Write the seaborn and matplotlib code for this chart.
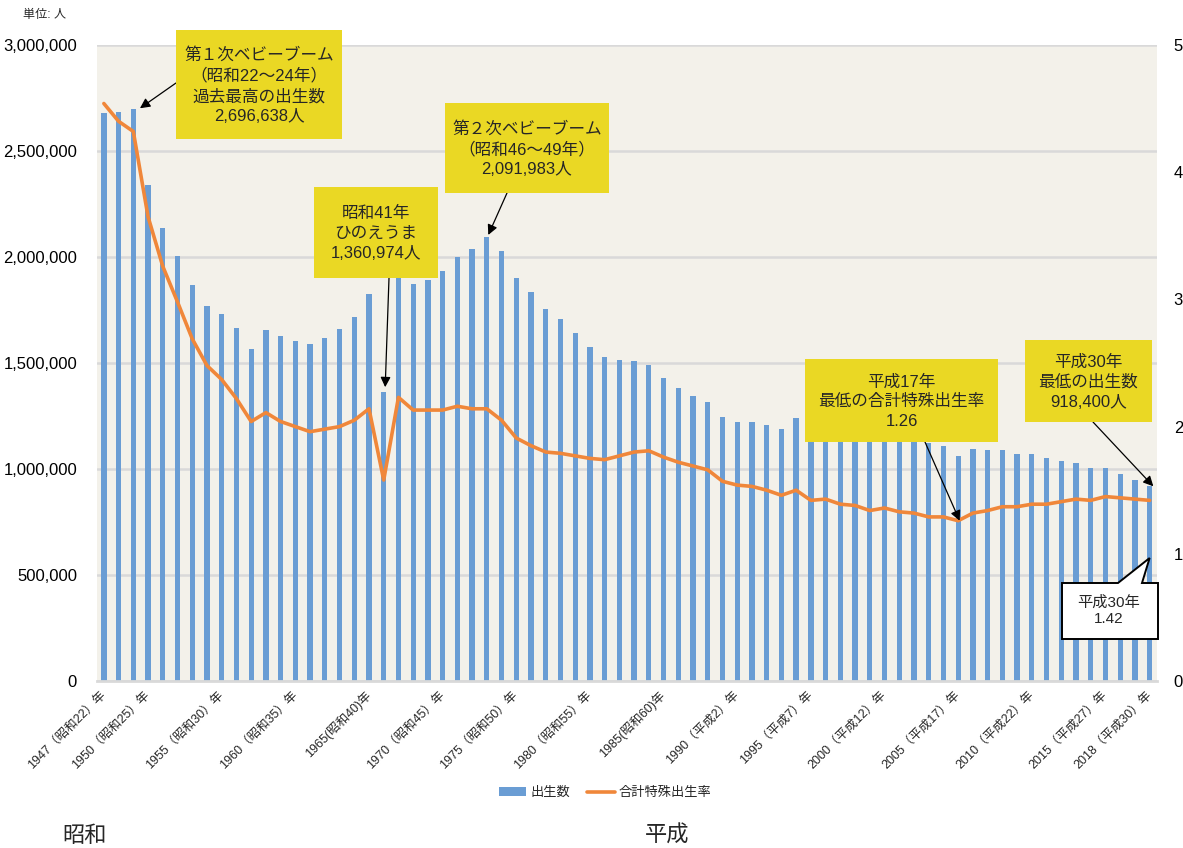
import numpy as np
import pandas as pd
import matplotlib
matplotlib.use("Agg")
import matplotlib.pyplot as plt
import seaborn as sns
from matplotlib.patches import Rectangle, Polygon, Patch
from matplotlib.lines import Line2D
from matplotlib.ticker import FuncFormatter, MultipleLocator

# ---- data -------------------------------------------------------------
years = list(range(1947, 2019))

births = [
    2678792, 2681624, 2696638, 2337507, 2137689, 2005162, 1868040, 1769580,
    1730692, 1665278, 1566713, 1653469, 1626088, 1606041, 1589372, 1618616,
    1659521, 1716761, 1823697, 1360974, 1935647, 1871839, 1889815, 1934239,
    2000973, 2038682, 2091983, 2029989, 1901440, 1832617, 1755100, 1708643,
    1642580, 1576889, 1529455, 1515392, 1508687, 1489780, 1431577, 1382946,
    1346658, 1314006, 1246802, 1221585, 1223245, 1208989, 1188282, 1238328,
    1187064, 1206555, 1191665, 1203147, 1177669, 1190547, 1170662, 1153855,
    1123610, 1110721, 1062530, 1092674, 1089818, 1091156, 1070035, 1071304,
    1050806, 1037231, 1029816, 1003539, 1005677, 976978, 946065, 918400,
]

tfr = [
    4.54, 4.40, 4.32, 3.65, 3.26, 2.98, 2.69, 2.48, 2.37, 2.22, 2.04, 2.11,
    2.04, 2.00, 1.96, 1.98, 2.00, 2.05, 2.14, 1.58, 2.23, 2.13, 2.13, 2.13,
    2.16, 2.14, 2.14, 2.05, 1.91, 1.85, 1.80, 1.79, 1.77, 1.75, 1.74, 1.77,
    1.80, 1.81, 1.76, 1.72, 1.69, 1.66, 1.57, 1.54, 1.53, 1.50, 1.46, 1.50,
    1.42, 1.43, 1.39, 1.38, 1.34, 1.36, 1.33, 1.32, 1.29, 1.29, 1.26, 1.32,
    1.34, 1.37, 1.37, 1.39, 1.39, 1.41, 1.43, 1.42, 1.45, 1.44, 1.43, 1.42,
]

tick_years = [1947, 1950, 1955, 1960, 1965, 1970, 1975, 1980, 1985,
              1990, 1995, 2000, 2005, 2010, 2015, 2018]
tick_labels = [
    "1947（昭和22）年", "1950（昭和25）年", "1955（昭和30）年", "1960（昭和35）年",
    "1965(昭和40)年", "1970（昭和45）年", "1975（昭和50）年", "1980（昭和55）年",
    "1985(昭和60)年", "1990（平成2）年", "1995（平成7）年", "2000（平成12）年",
    "2005（平成17）年", "2010（平成22）年", "2015（平成27）年", "2018（平成30）年",
]

# ---- style ------------------------------------------------------------
BAR = "#6A9DD4"
ORANGE = "#F0873A"
YELLOW = "#EAD824"
PANEL = "#F3F1EA"
GRID = "#D9D9D9"

sns.set_style("white")
plt.rcParams["font.family"] = ["Liberation Sans", "Noto Sans CJK JP"]

W, H = 1183, 848
fig = plt.figure(figsize=(W / 100, H / 100), dpi=100)


def fx(x):
    return x / W


def fy(y):
    return 1 - y / H


ax = fig.add_axes([fx(96.5), fy(681), (1157 - 96.5) / W, (681 - 45) / H])
ax.set_facecolor(PANEL)
ax.set_axisbelow(True)

df = pd.DataFrame({"年": years, "出生数": births, "合計特殊出生率": tfr})
sns.barplot(data=df, x="年", y="出生数", color=BAR, saturation=1,
            width=0.36, linewidth=0, ax=ax)

ax2 = ax.twinx()
sns.lineplot(x=np.arange(len(years)), y=df["合計特殊出生率"], ax=ax2,
             color=ORANGE, lw=2.6)

n = len(years)
ax.set_xlim(-0.5, n - 0.5)

# left axis: births
ax.set_ylim(0, 3_000_000)
ax.yaxis.set_major_locator(MultipleLocator(500_000))
ax.yaxis.set_major_formatter(FuncFormatter(lambda v, p: f"{v:,.0f}"))
ax.yaxis.grid(True, color=GRID, lw=1.8)
ax.tick_params(axis="y", length=0, pad=14, labelsize=12, colors="black")

# right axis: total fertility rate
ax2.set_ylim(0, 5)
ax2.set_yticks(range(6))
ax2.tick_params(axis="y", length=0, pad=12, labelsize=12, colors="black")

for a in (ax, ax2):
    a.set_xlabel("")
    a.set_ylabel("")
    for s in ("top", "left", "right"):
        a.spines[s].set_visible(False)
ax2.spines["bottom"].set_visible(False)
ax.spines["bottom"].set_color(GRID)
ax.spines["bottom"].set_linewidth(2)

# x axis: labels under selected years, small ticks between every bar
pos = [years.index(y) for y in tick_years]
ax.set_xticks(pos)
ax.set_xticklabels(tick_labels, rotation=45, ha="right", va="center",
                   rotation_mode="anchor", fontsize=9)
ax.set_xticks(np.arange(-0.5, n, 1.0), minor=True)
ax.tick_params(axis="x", which="major", length=0, pad=9)
ax.tick_params(axis="x", which="minor", length=5, width=1.5, color=GRID)

# ---- annotation boxes -------------------------------------------------
boxes = [
    (176, 30, 342, 139, "第１次ベビーブーム\n（昭和22～24年）\n過去最高の出生数\n2,696,638人"),
    (445, 103, 609, 193, "第２次ベビーブーム\n（昭和46～49年）\n2,091,983人"),
    (314, 187, 438, 278, "昭和41年\nひのえうま\n1,360,974人"),
    (805, 359, 998, 442, "平成17年\n最低の合計特殊出生率\n1.26"),
    (1025, 340, 1152, 422, "平成30年\n最低の出生数\n918,400人"),
]
for x0, y0, x1, y1, txt in boxes:
    fig.add_artist(Rectangle((fx(x0), fy(y1)), (x1 - x0) / W, (y1 - y0) / H,
                             transform=fig.transFigure, facecolor=YELLOW,
                             edgecolor="none", zorder=5))
    fig.text(fx((x0 + x1) / 2), fy((y0 + y1) / 2 + 1), txt, ha="center",
             va="center", ma="center", fontsize=12, linespacing=1.38,
             zorder=6)

arrow_kw = dict(arrowstyle="-|>", color="black", lw=0.9, shrinkA=0, shrinkB=0,
                mutation_scale=15)


def point_at(axis, year, value, start, dx=0.0, dy=0.0):
    axis.annotate("", xy=(years.index(year) + dx, value + dy), xycoords="data",
                  xytext=(fx(start[0]), fy(start[1])),
                  textcoords="figure fraction", arrowprops=arrow_kw,
                  annotation_clip=False)


point_at(ax, 1949, births[years.index(1949)], (176, 83), dx=0.45, dy=5000)
point_at(ax, 1973, births[years.index(1973)], (507, 193), dx=0.1, dy=12000)
point_at(ax, 1966, births[years.index(1966)], (389, 278), dx=0.1, dy=25000)
point_at(ax2, 2005, tfr[years.index(2005)], (925, 442), dx=0.1)
point_at(ax, 2018, births[years.index(2018)], (1093, 422), dx=0.25)

# white callout for the latest fertility rate
tip_x = (fig.transFigure.inverted().transform(
    ax.transData.transform((years.index(2018), 0)))[0]) * W
callout = [(1062, 583), (1118, 583), (tip_x, 558), (1142, 583), (1158, 583),
           (1158, 639), (1062, 639)]
fig.add_artist(Polygon([(fx(x), fy(y)) for x, y in callout], closed=True,
                       transform=fig.transFigure, facecolor="white",
                       edgecolor="black", lw=1.4, zorder=5))
fig.text(fx(1109), fy(611), "平成30年\n1.42", ha="center", va="center",
         ma="center", fontsize=11, linespacing=1.2, zorder=6)

# ---- surrounding text -------------------------------------------------
fig.text(fx(23), fy(15), "単位: 人", ha="left", va="center", fontsize=8.7)
fig.text(fx(62), fy(836), "昭和", ha="left", va="center", fontsize=16)
fig.text(fx(645), fy(836), "平成", ha="left", va="center", fontsize=16)

handles = [Patch(facecolor=BAR, edgecolor="none", label="出生数"),
           Line2D([], [], color=ORANGE, lw=2.6, label="合計特殊出生率")]
fig.legend(handles=handles, loc="center", bbox_to_anchor=(fx(605), fy(793)),
           ncol=2, frameon=False, fontsize=9.5, handlelength=2.1,
           handleheight=0.6, handletextpad=0.3, columnspacing=1.3)

fig.savefig("out.png", dpi=100)
